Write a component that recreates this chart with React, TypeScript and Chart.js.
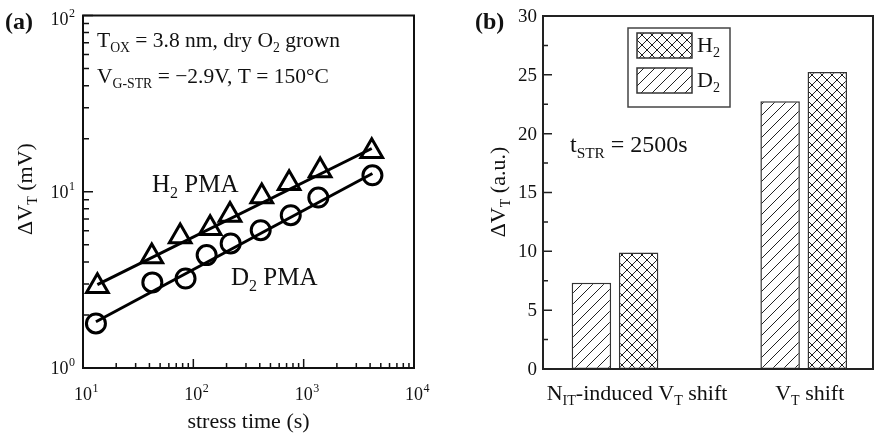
import React, { useEffect, useRef } from 'react';
import { Chart, registerables } from 'chart.js';

Chart.register(...registerables);

const FONT = '"Liberation Serif", "Times New Roman", Times, serif';
const INK = '#111';

// ---------- Panel (a): ΔVT vs stress time (log-log) ----------
const h2Time = [13.5, 42, 76, 142, 215, 417, 738, 1410, 4140];
const h2Shift = [2.91, 4.29, 5.57, 6.21, 7.39, 9.39, 11.17, 13.2, 17.0];
const d2Time = [13.1, 42.5, 85, 132, 218, 408, 764, 1358, 4200];
const d2Shift = [1.79, 3.06, 3.22, 4.37, 5.09, 6.05, 7.36, 9.27, 12.4];
const h2FitTime = [13.5, 4140];
const h2FitShift = [2.97, 17.6];
const d2FitTime = [13.1, 4200];
const d2FitShift = [1.83, 12.7];
const xMajorTicks = [10, 100, 1000, 10000];
const xTickExponents = ['1', '2', '3', '4'];
const yMajorTicks = [1, 10, 100];
const yTickExponents = ['0', '1', '2'];

// ---------- Panel (b): bar chart ----------
const categoryPositions = [1, 2];
const d2Bars = [7.33, 22.75];
const h2Bars = [9.9, 25.24];
const barYTicks = [0, 5, 10, 15, 20, 25, 30];
const barYMinorTicks = [2.5, 7.5, 12.5, 17.5, 22.5, 27.5];

type Part = { t: string; s?: 'sub' | 'sup' };

function partFont(p: Part, fs: number, bold: boolean) {
  const size = p.s ? fs * 0.64 : fs;
  return `${bold ? 'bold ' : ''}${size}px ${FONT}`;
}

function richWidth(ctx: CanvasRenderingContext2D, parts: Part[], fs: number, bold = false) {
  let w = 0;
  for (const p of parts) {
    ctx.font = partFont(p, fs, bold);
    w += ctx.measureText(p.t).width;
  }
  return w;
}

function drawRich(
  ctx: CanvasRenderingContext2D,
  parts: Part[],
  x: number,
  y: number,
  fs: number,
  align: 'left' | 'center' | 'right' = 'left',
  bold = false
) {
  const w = richWidth(ctx, parts, fs, bold);
  let cx = align === 'left' ? x : align === 'center' ? x - w / 2 : x - w;
  ctx.save();
  ctx.textAlign = 'left';
  ctx.textBaseline = 'alphabetic';
  ctx.fillStyle = INK;
  for (const p of parts) {
    ctx.font = partFont(p, fs, bold);
    const dy = p.s === 'sub' ? fs * 0.24 : p.s === 'sup' ? -fs * 0.42 : 0;
    ctx.fillText(p.t, cx, y + dy);
    cx += ctx.measureText(p.t).width;
  }
  ctx.restore();
}

function makePattern(size: number, cross: boolean): CanvasPattern | string {
  const c = document.createElement('canvas');
  c.width = size;
  c.height = size;
  const g = c.getContext('2d');
  if (!g) return '#fff';
  g.fillStyle = '#fff';
  g.fillRect(0, 0, size, size);
  g.strokeStyle = '#222';
  g.lineWidth = 1;
  g.beginPath();
  g.moveTo(-1, size + 1);
  g.lineTo(size + 1, -1);
  g.moveTo(-size / 2 - 1, size / 2 + 1);
  g.lineTo(size / 2 + 1, -size / 2 - 1);
  g.moveTo(size / 2 - 1, size * 1.5 + 1);
  g.lineTo(size * 1.5 + 1, size / 2 - 1);
  if (cross) {
    g.moveTo(-1, -1);
    g.lineTo(size + 1, size + 1);
    g.moveTo(-size / 2 - 1, size / 2 - 1);
    g.lineTo(size / 2 + 1, size * 1.5 + 1);
    g.moveTo(size / 2 - 1, -size / 2 - 1);
    g.lineTo(size * 1.5 + 1, size / 2 + 1);
  }
  g.stroke();
  const pat = g.createPattern(c, 'repeat');
  return pat || '#fff';
}

const decorA = {
  id: 'decorA',
  afterDraw(chart: any) {
    const ctx: CanvasRenderingContext2D = chart.ctx;
    const { left, right, top, bottom } = chart.chartArea;
    const xs = chart.scales.x;
    const ys = chart.scales.y;
    ctx.save();
    ctx.strokeStyle = INK;
    ctx.lineWidth = 2;
    ctx.strokeRect(left, top, right - left, bottom - top);
    ctx.lineWidth = 1.5;
    ctx.beginPath();
    for (let d = 0; d < xMajorTicks.length; d++) {
      const v = xMajorTicks[d];
      const px = xs.getPixelForValue(v);
      ctx.moveTo(px, bottom);
      ctx.lineTo(px, bottom - 9);
      if (d < xMajorTicks.length - 1) {
        for (let m = 2; m <= 9; m++) {
          const mx = xs.getPixelForValue(v * m);
          ctx.moveTo(mx, bottom);
          ctx.lineTo(mx, bottom - 5);
        }
      }
    }
    for (let d = 0; d < yMajorTicks.length; d++) {
      const v = yMajorTicks[d];
      const py = ys.getPixelForValue(v);
      ctx.moveTo(left, py);
      ctx.lineTo(left + 10, py);
      if (d < yMajorTicks.length - 1) {
        for (let m = 2; m <= 9; m++) {
          const my = ys.getPixelForValue(v * m);
          ctx.moveTo(left, my);
          ctx.lineTo(left + 6, my);
        }
      }
    }
    ctx.stroke();
    ctx.restore();

    ctx.save();
    ctx.fillStyle = INK;
    const tfs = 18;
    const sfs = 12;
    xMajorTicks.forEach((v, i) => {
      const px = xs.getPixelForValue(v);
      ctx.font = `${tfs}px ${FONT}`;
      ctx.textAlign = 'center';
      ctx.textBaseline = 'alphabetic';
      const w = ctx.measureText('10').width;
      ctx.fillText('10', px, 400);
      ctx.font = `${sfs}px ${FONT}`;
      ctx.textAlign = 'left';
      ctx.fillText(xTickExponents[i], px + w / 2 + 0.5, 392);
    });
    yMajorTicks.forEach((v, i) => {
      const py = Math.max(ys.getPixelForValue(v), 19);
      const base = py + 6;
      const rx = left - 8;
      ctx.font = `${sfs}px ${FONT}`;
      ctx.textAlign = 'right';
      ctx.textBaseline = 'alphabetic';
      const sw = ctx.measureText(yTickExponents[i]).width;
      ctx.fillText(yTickExponents[i], rx, base - 8);
      ctx.font = `${tfs}px ${FONT}`;
      ctx.fillText('10', rx - sw - 0.5, base);
    });
    ctx.restore();

    drawRich(ctx, [{ t: 'stress time (s)' }], (left + right) / 2, 428, 22, 'center');
    ctx.save();
    ctx.translate(32, 189);
    ctx.rotate(-Math.PI / 2);
    drawRich(ctx, [{ t: 'ΔV' }, { t: 'T', s: 'sub' }, { t: ' (mV)' }], 0, 0, 22, 'center');
    ctx.restore();
    drawRich(ctx, [{ t: '(a)' }], 5, 29, 24, 'left', true);
    drawRich(
      ctx,
      [{ t: 'T' }, { t: 'OX', s: 'sub' }, { t: ' = 3.8 nm, dry O' }, { t: '2', s: 'sub' }, { t: ' grown' }],
      97,
      47,
      21.5
    );
    drawRich(
      ctx,
      [{ t: 'V' }, { t: 'G-STR', s: 'sub' }, { t: ' = \u22122.9V, T = 150°C' }],
      97,
      83,
      21.5
    );
    drawRich(ctx, [{ t: 'H' }, { t: '2', s: 'sub' }, { t: ' PMA' }], 152, 192, 25);
    drawRich(ctx, [{ t: 'D' }, { t: '2', s: 'sub' }, { t: ' PMA' }], 231, 285, 25);
  },
};

function makeDecorB(crossPat: any, slashPat: any) {
  return {
    id: 'decorB',
    afterDraw(chart: any) {
      const ctx: CanvasRenderingContext2D = chart.ctx;
      const { left, right, top, bottom } = chart.chartArea;
      const xs = chart.scales.x;
      const ys = chart.scales.y;
      ctx.save();
      ctx.strokeStyle = '#222';
      ctx.lineWidth = 2;
      ctx.strokeRect(left, top, right - left, bottom - top);
      ctx.lineWidth = 1.5;
      ctx.beginPath();
      barYTicks.forEach((v) => {
        const py = ys.getPixelForValue(v);
        ctx.moveTo(left, py);
        ctx.lineTo(left + 9, py);
      });
      barYMinorTicks.forEach((v) => {
        const py = ys.getPixelForValue(v);
        ctx.moveTo(left, py);
        ctx.lineTo(left + 5, py);
      });
      ctx.stroke();
      ctx.restore();

      ctx.save();
      ctx.fillStyle = INK;
      ctx.font = `19px ${FONT}`;
      ctx.textAlign = 'right';
      ctx.textBaseline = 'middle';
      barYTicks.forEach((v) => {
        ctx.fillText(String(v), left - 6, ys.getPixelForValue(v) + 1);
      });
      ctx.restore();

      drawRich(
        ctx,
        [{ t: 'N' }, { t: 'IT', s: 'sub' }, { t: '-induced V' }, { t: 'T', s: 'sub' }, { t: ' shift' }],
        xs.getPixelForValue(categoryPositions[0]) + 22,
        400,
        22,
        'center'
      );
      drawRich(
        ctx,
        [{ t: 'V' }, { t: 'T', s: 'sub' }, { t: ' shift' }],
        xs.getPixelForValue(categoryPositions[1]) + 6,
        400,
        22,
        'center'
      );

      ctx.save();
      ctx.translate(68, 192);
      ctx.rotate(-Math.PI / 2);
      drawRich(ctx, [{ t: 'ΔV' }, { t: 'T', s: 'sub' }, { t: ' (a.u.)' }], 0, 0, 22, 'center');
      ctx.restore();

      drawRich(ctx, [{ t: '(b)' }], 38, 29, 24, 'left', true);
      drawRich(ctx, [{ t: 't' }, { t: 'STR', s: 'sub' }, { t: ' = 2500s' }], 133, 152, 24);

      ctx.save();
      ctx.strokeStyle = '#444';
      ctx.lineWidth = 1.5;
      ctx.fillStyle = '#fff';
      ctx.fillRect(191, 28, 102, 79);
      ctx.strokeRect(191, 28, 102, 79);
      ctx.fillStyle = crossPat;
      ctx.fillRect(200, 33, 55, 25);
      ctx.strokeStyle = '#333';
      ctx.strokeRect(200, 33, 55, 25);
      ctx.fillStyle = slashPat;
      ctx.fillRect(200, 68, 55, 25);
      ctx.strokeRect(200, 68, 55, 25);
      ctx.restore();
      drawRich(ctx, [{ t: 'H' }, { t: '2', s: 'sub' }], 260, 52, 22);
      drawRich(ctx, [{ t: 'D' }, { t: '2', s: 'sub' }], 260, 87, 22);
    },
  };
}

function PanelA() {
  const ref = useRef<HTMLCanvasElement>(null);
  useEffect(() => {
    if (!ref.current) return;
    const chart = new Chart(ref.current, {
      type: 'scatter',
      data: {
        datasets: [
          {
            label: 'H2 fit',
            data: h2FitTime.map((x, i) => ({ x, y: h2FitShift[i] })),
            showLine: true,
            pointRadius: 0,
            borderColor: '#000',
            borderWidth: 3,
          },
          {
            label: 'D2 fit',
            data: d2FitTime.map((x, i) => ({ x, y: d2FitShift[i] })),
            showLine: true,
            pointRadius: 0,
            borderColor: '#000',
            borderWidth: 3,
          },
          {
            label: 'H2 PMA',
            data: h2Time.map((x, i) => ({ x, y: h2Shift[i] })),
            showLine: false,
            pointStyle: 'triangle',
            pointRadius: 12.5,
            pointBorderWidth: 3,
            pointBorderColor: '#000',
            pointBackgroundColor: 'rgba(0,0,0,0)',
          },
          {
            label: 'D2 PMA',
            data: d2Time.map((x, i) => ({ x, y: d2Shift[i] })),
            showLine: false,
            pointStyle: 'circle',
            pointRadius: 9.5,
            pointBorderWidth: 3,
            pointBorderColor: '#000',
            pointBackgroundColor: 'rgba(0,0,0,0)',
          },
        ],
      } as any,
      options: {
        responsive: false,
        animation: false,
        layout: { padding: { left: 83, right: 23, top: 15, bottom: 69 } },
        plugins: { legend: { display: false }, tooltip: { enabled: false } },
        scales: {
          x: { type: 'logarithmic', min: 10, max: 10000, display: false },
          y: { type: 'logarithmic', min: 1, max: 100, display: false },
        },
      } as any,
      plugins: [decorA],
    });
    return () => chart.destroy();
  }, []);
  return (
    <canvas
      ref={ref}
      width={437}
      height={437}
      style={{ position: 'absolute', left: 0, top: 0, width: 437, height: 437 }}
    />
  );
}

function PanelB() {
  const ref = useRef<HTMLCanvasElement>(null);
  useEffect(() => {
    if (!ref.current) return;
    const slash = makePattern(11, false);
    const cross = makePattern(10, true);
    const chart = new Chart(ref.current, {
      type: 'bar',
      data: {
        datasets: [
          {
            label: 'D2',
            data: d2Bars.map((y, i) => ({ x: categoryPositions[i], y })),
            backgroundColor: slash,
            borderColor: '#333',
            borderWidth: 1.5,
            borderSkipped: false,
            categoryPercentage: 0.5,
            barPercentage: 0.837,
          },
          {
            label: 'H2',
            data: h2Bars.map((y, i) => ({ x: categoryPositions[i], y })),
            backgroundColor: cross,
            borderColor: '#333',
            borderWidth: 1.5,
            borderSkipped: false,
            categoryPercentage: 0.5,
            barPercentage: 0.837,
          },
        ],
      } as any,
      options: {
        responsive: false,
        animation: false,
        layout: { padding: { left: 106, right: 1, top: 16, bottom: 68 } },
        plugins: { legend: { display: false }, tooltip: { enabled: false } },
        scales: {
          x: {
            type: 'linear',
            min: 0.6184,
            max: 2.3672,
            offset: false,
            display: false,
            afterBuildTicks: (s: any) => {
              s.ticks = categoryPositions.map((v) => ({ value: v }));
            },
          },
          y: { type: 'linear', min: 0, max: 30, display: false },
        },
      } as any,
      plugins: [makeDecorB(cross, slash)],
    });
    return () => chart.destroy();
  }, []);
  return (
    <canvas
      ref={ref}
      width={437}
      height={437}
      style={{ position: 'absolute', left: 437, top: 0, width: 437, height: 437 }}
    />
  );
}

export default function App() {
  return (
    <div
      style={{
        position: 'fixed',
        left: 0,
        top: 0,
        width: 874,
        height: 437,
        background: '#fff',
        overflow: 'hidden',
      }}
    >
      <PanelA />
      <PanelB />
    </div>
  );
}
